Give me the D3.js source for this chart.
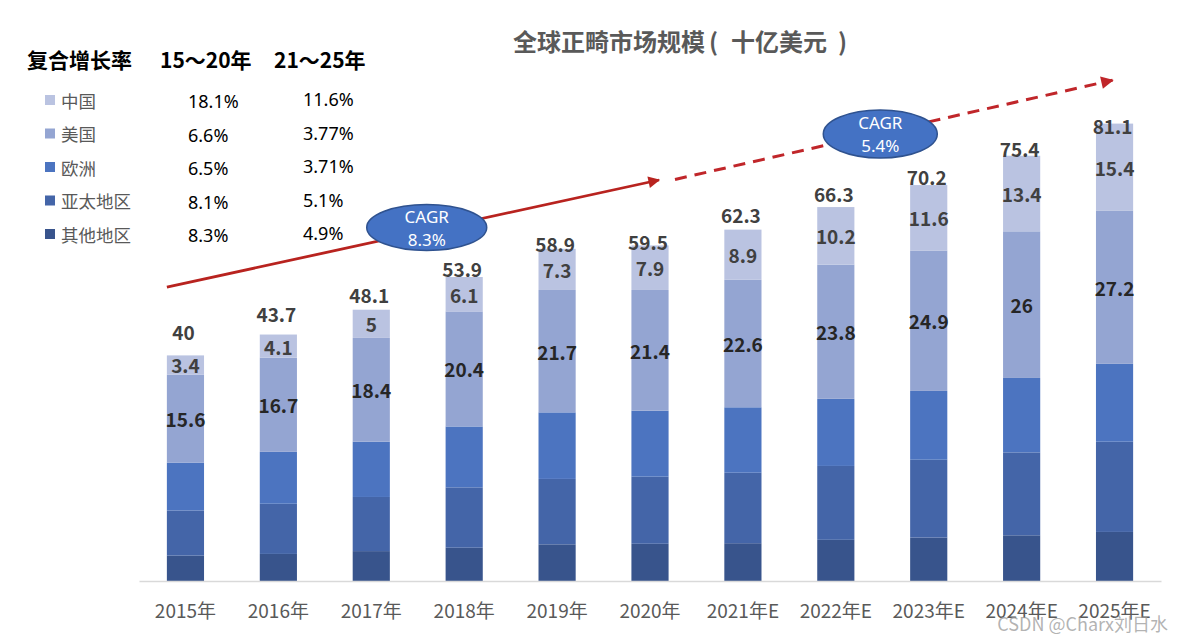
<!DOCTYPE html>
<html>
<head>
<meta charset="utf-8">
<script src="https://cdn.jsdelivr.net/npm/d3@7"></script>
<style>
  html, body { margin: 0; padding: 0; background: #fff; }
  svg { display: block; }
  text { font-family: "Noto Sans CJK SC", "Noto Sans", sans-serif; }
</style>
</head>
<body>
<svg id="chart" width="1184" height="640"></svg>
<script>
// ---------- DATA ----------
const years = ["2015年","2016年","2017年","2018年","2019年","2020年","2021年E","2022年E","2023年E","2024年E","2025年E"];
const seriesNames = ["中国","美国","欧洲","亚太地区","其他地区"];
const china  = [3.4, 4.1, 5.0, 6.1, 7.3, 7.9, 8.9, 10.2, 11.6, 13.4, 15.4];
const usa    = [15.6, 16.7, 18.4, 20.4, 21.7, 21.4, 22.6, 23.8, 24.9, 26.0, 27.2];
const europe = [8.5, 9.2, 9.8, 10.8, 11.8, 11.7, 11.6, 11.9, 12.2, 13.2, 13.8];
const apac   = [8.0, 8.9, 9.6, 10.7, 11.6, 11.9, 12.5, 13.1, 13.8, 14.7, 16.0];
const others = [4.5, 4.8, 5.3, 5.9, 6.5, 6.6, 6.7, 7.3, 7.7, 8.1, 8.7];
const totals = [40, 43.7, 48.1, 53.9, 58.9, 59.5, 62.3, 66.3, 70.2, 75.4, 81.1];
const cagr1520 = ["18.1%","6.6%","6.5%","8.1%","8.3%"];
const cagr2125 = ["11.6%","3.77%","3.71%","5.1%","4.9%"];
const cagrBadges = ["8.3%", "5.4%"];
const titleParts = ["全球正畸市场规模", "(", "十亿美元", ")"];
const legendHeader = ["复合增长率", "15～20年", "21～25年"];

// ---------- LAYOUT / STYLE ----------
const colors = ["#BAC3E1", "#94A5D2", "#4C74C0", "#4465A8", "#38548C"];
const totalLabelGap = [24, 21, 15, 9, 5, 4, 15, 14, 9, 7, -2];

const svg = d3.select("#chart");
const baseY = 581;

const x = d3.scaleBand().domain(years).range([139, 1161]).paddingInner(0.6).paddingOuter(0.3);
const y = d3.scaleLinear().domain([0, 90]).range([baseY, baseY - 90 * 5.64]);

// stack (bottom -> top: 其他地区, 亚太地区, 欧洲, 美国, 中国)
const rows = years.map((yr, i) => ({
  year: yr, 中国: china[i], 美国: usa[i], 欧洲: europe[i], 亚太地区: apac[i], 其他地区: others[i]
}));
const stackKeys = seriesNames.slice().reverse();
const stacked = d3.stack().keys(stackKeys)(rows);
const colorOf = d3.scaleOrdinal().domain(seriesNames).range(colors);

// title
const title = svg.append("text")
  .attr("x", 513).attr("y", 40)
  .attr("dominant-baseline", "central")
  .attr("font-size", 24).attr("font-weight", "bold").attr("fill", "#595959");
title.append("tspan").text(titleParts[0]);
title.append("tspan").attr("dx", 4).text(titleParts[1]);
title.append("tspan").attr("dx", 13).text(titleParts[2]);
title.append("tspan").attr("dx", 11).text(titleParts[3]);

// bars
const layers = svg.append("g").selectAll("g").data(stacked).join("g")
  .attr("fill", d => colorOf(d.key));
layers.selectAll("rect").data(d => d).join("rect")
  .attr("x", d => x(d.data.year))
  .attr("width", x.bandwidth())
  .attr("y", d => y(d[1]))
  .attr("height", d => y(d[0]) - y(d[1]));

// x axis
const xAxis = svg.append("g")
  .attr("transform", `translate(0,${baseY})`)
  .call(d3.axisBottom(x).tickSize(0).tickPadding(24));
xAxis.select(".domain").attr("stroke", "#D9D9D9").attr("stroke-width", 1.5);
xAxis.selectAll("text")
  .attr("font-size", 19).attr("fill", "#595959")
  .style("font-family", '"Noto Sans CJK SC", "Noto Sans", sans-serif');

// segment labels for 中国 and 美国
const labeledKeys = ["中国", "美国"];
stacked.filter(s => labeledKeys.includes(s.key)).forEach(s => {
  svg.append("g").selectAll("text").data(s).join("text")
    .attr("x", d => x(d.data.year) + x.bandwidth() / 2)
    .attr("y", d => (y(d[0]) + y(d[1])) / 2)
    .attr("text-anchor", "middle").attr("dominant-baseline", "central")
    .attr("font-size", 19).attr("font-weight", "bold")
    .attr("fill", s.key === "中国" ? "#404040" : "#262626")
    .text(d => d.data[s.key]);
});

// total labels
svg.append("g").selectAll("text").data(totals).join("text")
  .attr("x", (d, i) => x(years[i]) + x.bandwidth() / 2 - 2)
  .attr("y", (d, i) => y(d) - totalLabelGap[i])
  .attr("text-anchor", "middle").attr("dominant-baseline", "central")
  .attr("font-size", 19).attr("font-weight", "bold").attr("fill", "#404040")
  .text(d => d);

// legend table
const lg = svg.append("g");
const headerX = [27, 160, 274];
legendHeader.forEach((t, i) => {
  lg.append("text").attr("x", headerX[i]).attr("y", 59)
    .attr("dominant-baseline", "central")
    .attr("font-size", 21).attr("font-weight", "bold").attr("fill", "#000")
    .text(t);
});
const rowY = d3.scalePoint().domain(seriesNames).range([100, 234]);
seriesNames.forEach((name, i) => {
  const cy = rowY(name);
  lg.append("rect").attr("x", 45).attr("y", cy - 5).attr("width", 10).attr("height", 10)
    .attr("fill", colors[i]);
  lg.append("text").attr("x", 61).attr("y", cy).attr("dominant-baseline", "central")
    .attr("font-size", 17.5).attr("fill", "#595959").text(name);
  lg.append("text").attr("x", 188).attr("y", cy + 1).attr("dominant-baseline", "central")
    .attr("font-size", 18).attr("fill", "#000")
    .style("font-family", '"Noto Sans", sans-serif').text(cagr1520[i]);
  lg.append("text").attr("x", 303).attr("y", cy - 1).attr("dominant-baseline", "central")
    .attr("font-size", 18).attr("fill", "#000")
    .style("font-family", '"Noto Sans", sans-serif').text(cagr2125[i]);
});

// arrows
const defs = svg.append("defs");
function marker(id, color) {
  defs.append("marker").attr("id", id)
    .attr("viewBox", "0 0 10 10").attr("refX", 9).attr("refY", 5)
    .attr("markerWidth", 5).attr("markerHeight", 4.2).attr("orient", "auto")
    .attr("markerUnits", "strokeWidth")
    .append("path").attr("d", "M0,0 L10,5 L0,10 Z").attr("fill", color);
}
marker("arrowSolid", "#B8231F");
marker("arrowDash", "#C0262A");

const cx = yr => x(yr) + x.bandwidth() / 2;
const a1 = { x1: x(years[0]), y1: y(52.1), x2: cx(years[5]) + 9, y2: y(71.1) };
const a2 = { x1: cx(years[5]) + 25, y1: y(71.2), x2: cx(years[10]) - 2, y2: y(88.8) };

svg.append("line")
  .attr("x1", a1.x1).attr("y1", a1.y1).attr("x2", a1.x2).attr("y2", a1.y2)
  .attr("stroke", "#B8231F").attr("stroke-width", 2.8)
  .attr("marker-end", "url(#arrowSolid)");
svg.append("line")
  .attr("x1", a2.x1).attr("y1", a2.y1).attr("x2", a2.x2).attr("y2", a2.y2)
  .attr("stroke", "#C0262A").attr("stroke-width", 3)
  .attr("stroke-dasharray", "12,8")
  .attr("marker-end", "url(#arrowDash)");

// CAGR badges
const badges = [
  { cx: (cx(years[2]) + cx(years[3])) / 2 + 9, cy: 227.5, rx: 60, ry: 23, label: cagrBadges[0] },
  { cx: (cx(years[7]) + cx(years[8])) / 2 - 2, cy: 134, rx: 57, ry: 24, label: cagrBadges[1] }
];
badges.forEach(b => {
  svg.append("ellipse").attr("cx", b.cx).attr("cy", b.cy).attr("rx", b.rx).attr("ry", b.ry)
    .attr("fill", "#4472C4").attr("stroke", "#2F528F").attr("stroke-width", 1.5);
  [["CAGR", -11.5], [b.label, 11.5]].forEach(([txt, off]) => {
    svg.append("text").attr("x", b.cx).attr("y", b.cy + off)
      .attr("text-anchor", "middle").attr("dominant-baseline", "central")
      .attr("font-size", 17).attr("fill", "#fff")
      .style("font-family", '"Noto Sans", sans-serif').text(txt);
  });
});

// watermark
svg.append("text").attr("x", 1168).attr("y", 623)
  .attr("text-anchor", "end").attr("dominant-baseline", "central")
  .attr("font-size", 18).attr("fill", "#9a9a9a").attr("fill-opacity", 0.75)
  .text("CSDN @Charx刘日水");
</script>
</body>
</html>
